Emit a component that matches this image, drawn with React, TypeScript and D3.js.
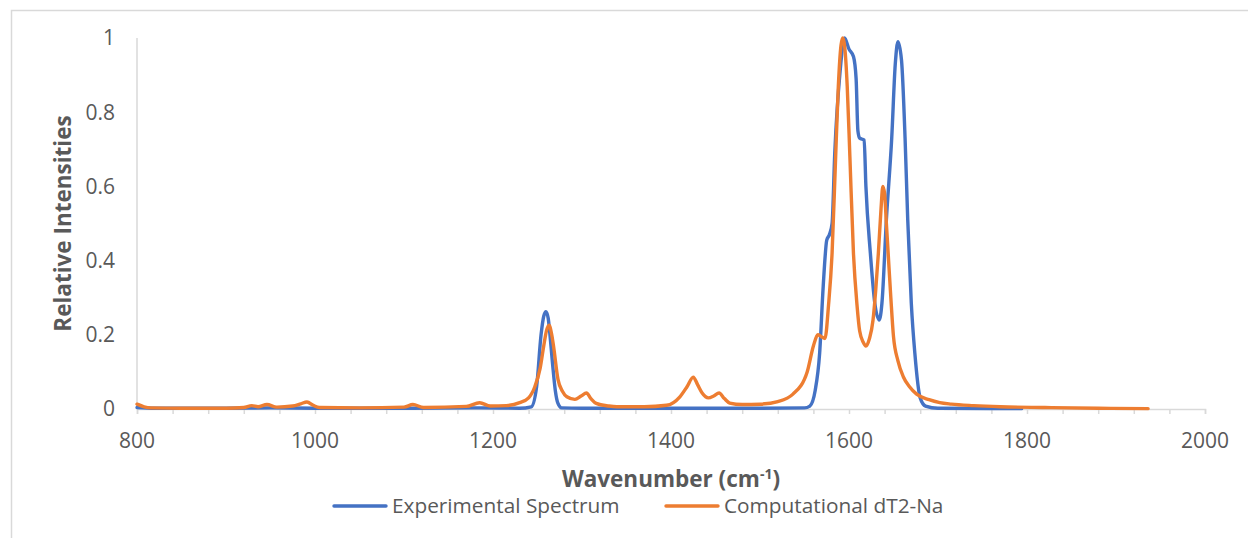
import * as React from 'react';
import * as d3 from 'd3';

// [wavenumber, relative intensity]
const experimental: [number, number][] = [
  [800, 0.004], [820, 0.002], [900, 0.002], [950, 0.003], [1000, 0.002], [1100, 0.002],
  [1185, 0.003], [1230, 0.002], [1243, 0.006], [1249, 0.06], [1254, 0.2], [1257, 0.25],
  [1259.5, 0.262], [1262, 0.245], [1264, 0.2], [1267, 0.12], [1270, 0.05], [1273, 0.015],
  [1277, 0.003], [1300, 0.002], [1400, 0.002], [1500, 0.002], [1550, 0.003],
  [1556, 0.008], [1562, 0.05], [1567, 0.15], [1571, 0.33], [1575, 0.455], [1578, 0.47],
  [1581, 0.5], [1584, 0.69], [1590, 0.91], [1595, 1.0], [1600, 0.97], [1605, 0.95],
  [1608, 0.89], [1610, 0.75], [1612, 0.73], [1617, 0.725], [1619, 0.6], [1624, 0.42],
  [1629, 0.285], [1634, 0.24], [1637, 0.285], [1642, 0.51], [1648, 0.73], [1652, 0.93],
  [1655, 0.99], [1659, 0.94], [1663, 0.73], [1666, 0.51], [1670, 0.285], [1674, 0.15],
  [1680, 0.03], [1686, 0.008], [1700, 0.002], [1794, 0.001]
];

const computational: [number, number][] = [
  [800, 0.013], [808, 0.006], [815, 0.003], [850, 0.002], [900, 0.002], [920, 0.004],
  [929, 0.009], [936, 0.006], [946, 0.012], [957, 0.005], [975, 0.008], [984, 0.014],
  [991, 0.019], [998, 0.01], [1005, 0.004], [1050, 0.003], [1100, 0.005], [1110, 0.012],
  [1122, 0.004], [1170, 0.007], [1185, 0.017], [1197, 0.008], [1215, 0.009], [1230, 0.017],
  [1240, 0.03], [1247, 0.06], [1253, 0.11], [1257, 0.17], [1260, 0.21], [1263, 0.226],
  [1266, 0.2], [1268, 0.17], [1273, 0.08], [1278, 0.048], [1283, 0.033], [1292, 0.026],
  [1299, 0.035], [1305, 0.043], [1310, 0.028], [1316, 0.015], [1330, 0.008], [1339, 0.006],
  [1370, 0.006], [1395, 0.01], [1410, 0.033], [1418, 0.06], [1425, 0.086], [1430, 0.065],
  [1435, 0.043], [1442, 0.03], [1448, 0.035], [1454, 0.043], [1460, 0.028], [1466, 0.016],
  [1480, 0.012], [1500, 0.013], [1520, 0.02], [1537, 0.04], [1553, 0.1], [1560, 0.17],
  [1565, 0.2], [1569, 0.195], [1573, 0.19], [1577, 0.28], [1581, 0.42], [1585, 0.68],
  [1588, 0.87], [1591, 0.98], [1593, 1.0], [1595, 0.98], [1598, 0.87], [1601, 0.68],
  [1605, 0.42], [1609, 0.28], [1612, 0.21], [1616, 0.18], [1619, 0.17], [1623, 0.19],
  [1627, 0.24], [1630, 0.32], [1633, 0.42], [1636, 0.54], [1638, 0.6], [1640, 0.58],
  [1642, 0.5], [1644, 0.42], [1647, 0.3], [1650, 0.195], [1655, 0.13], [1661, 0.087],
  [1668, 0.06], [1676, 0.04], [1690, 0.025], [1702, 0.017], [1715, 0.013], [1740, 0.009],
  [1770, 0.006], [1820, 0.004], [1880, 0.002], [1936, 0.001]
];

const xTicks = [800, 1000, 1200, 1400, 1600, 1800, 2000];
const xMinorTicks = d3.range(800, 2001, 40);
const yTicks = [0, 0.2, 0.4, 0.6, 0.8, 1];

const seriesNames = ['Experimental Spectrum', 'Computational dT2-Na'];
const seriesColors = ['#4472C4', '#ED7D31'];

const W = 1248;
const H = 538;
const FONT = '"Open Sans", Lato, sans-serif';

const App = () => {
  const nodeRef = React.useRef<SVGSVGElement>(null);

  React.useEffect(() => {
    const svg = d3.select(nodeRef.current);
    svg.selectAll('*').remove();

    const x = d3.scaleLinear().domain([800, 2000]).range([137, 1205]);
    const y = d3.scaleLinear().domain([0, 1]).range([409, 38]);

    // chart border (cut off at the right and bottom in the reference)
    svg.append('rect')
      .attr('x', 11.5).attr('y', 10.5)
      .attr('width', 1400).attr('height', 700)
      .attr('fill', '#fff').attr('stroke', '#d9d9d9').attr('stroke-width', 1.5);

    // y axis: line only
    svg.append('line')
      .attr('x1', x(800)).attr('x2', x(800))
      .attr('y1', y(1)).attr('y2', y(0))
      .attr('stroke', '#d9d9d9').attr('stroke-width', 1.5);

    svg.append('g')
      .selectAll('text')
      .data(yTicks)
      .enter()
      .append('text')
      .attr('x', 115)
      .attr('y', d => y(d))
      .attr('dy', '0.35em')
      .attr('text-anchor', 'end')
      .attr('fill', '#595959')
      .style('font', `21px ${FONT}`)
      .text(d => String(d));

    // x axis with minor ticks
    const xAxis = svg.append('g')
      .attr('transform', `translate(0,${y(0)})`)
      .call(d3.axisBottom(x).tickValues(xMinorTicks).tickSize(5).tickSizeOuter(5).tickFormat(() => ''));
    xAxis.select('.domain').attr('stroke', '#d9d9d9').attr('stroke-width', 1.5);
    xAxis.selectAll('.tick line').attr('stroke', '#d9d9d9').attr('stroke-width', 1.5);

    svg.append('g')
      .selectAll('text')
      .data(xTicks)
      .enter()
      .append('text')
      .attr('x', d => x(d))
      .attr('y', 448)
      .attr('text-anchor', 'middle')
      .attr('fill', '#595959')
      .style('font', `21px ${FONT}`)
      .text(d => String(d));

    // lines
    const line = d3.line<[number, number]>()
      .x(d => x(d[0]))
      .y(d => y(d[1]))
      .curve(d3.curveMonotoneX);

    [experimental, computational].forEach((data, i) => {
      svg.append('path')
        .datum(data)
        .attr('fill', 'none')
        .attr('stroke', seriesColors[i])
        .attr('stroke-width', 3.4)
        .attr('stroke-linejoin', 'round')
        .attr('stroke-linecap', 'round')
        .attr('d', line);
    });

    // axis titles
    svg.append('text')
      .attr('transform', `translate(71,${(y(0) + y(1)) / 2}) rotate(-90)`)
      .attr('text-anchor', 'middle')
      .attr('fill', '#595959')
      .style('font', `bold 22.5px ${FONT}`)
      .text('Relative Intensities');

    const xt = svg.append('text')
      .attr('x', 671)
      .attr('y', 487)
      .attr('text-anchor', 'middle')
      .attr('fill', '#595959')
      .style('font', `bold 22.5px ${FONT}`);
    xt.append('tspan').text('Wavenumber (cm');
    xt.append('tspan').attr('dy', -8).style('font-size', '14px').text('-1');
    xt.append('tspan').attr('dy', 8).text(')');

    // legend
    const legendX = [334, 666];
    seriesNames.forEach((name, i) => {
      const g = svg.append('g').attr('transform', `translate(${legendX[i]},506)`);
      g.append('line')
        .attr('x1', 0).attr('x2', 52)
        .attr('stroke', seriesColors[i]).attr('stroke-width', 3.4)
        .attr('stroke-linecap', 'round');
      g.append('text')
        .attr('x', 58)
        .attr('dy', '0.35em')
        .attr('fill', '#595959')
        .style('font', `20.8px ${FONT}`)
        .text(name);
    });
  }, []);

  return (
    <svg
      ref={nodeRef}
      width={W}
      height={H}
      style={{ position: 'absolute', left: 0, top: 0, background: '#fff' }}
    />
  );
};

export default App;
